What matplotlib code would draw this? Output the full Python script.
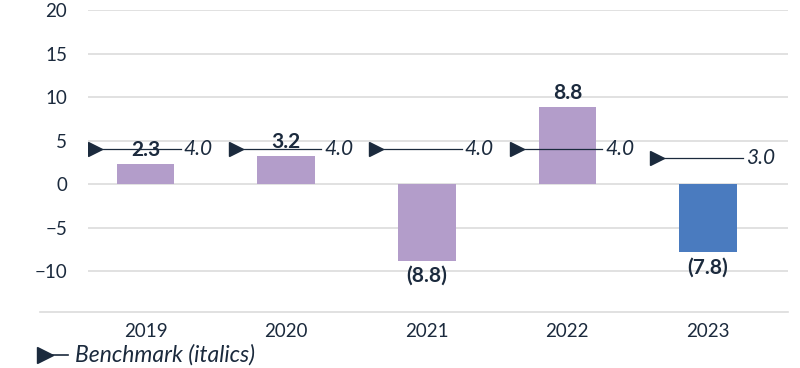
import numpy as np
import matplotlib
matplotlib.use("Agg")
from matplotlib import pyplot as plt
from matplotlib.lines import Line2D

years = ["2019", "2020", "2021", "2022", "2023"]
values = [2.3, 3.2, -8.8, 8.8, -7.8]
benchmark = [4.0, 4.0, 4.0, 4.0, 3.0]
bar_colors = ["#b39dca", "#b39dca", "#b39dca", "#b39dca", "#4a7bbf"]

navy = "#1b2a3d"
grid_col = "#dcdcdc"

plt.rcParams['font.family'] = ['Lato', 'DejaVu Sans']

fig = plt.figure(figsize=(8, 3.68), dpi=100)
ax = fig.add_axes([88/800, 1-312/368, 700/800, 302/368])

x = np.arange(len(years))
ax.bar(x, values, width=0.41, color=bar_colors, zorder=2)

# benchmark markers: triangle on the left, thin line, italic value
for xi, b in zip(x, benchmark):
    ax.plot([xi-0.36, xi+0.25], [b, b], color=navy, lw=0.9, zorder=3)
    ax.plot([xi-0.36], [b], marker='>', color=navy, ms=10, zorder=4)
    ax.text(xi+0.27, b, f"{b:.1f}", style='italic', fontsize=15,
            color=navy, va='center', ha='left', zorder=4)

# bar value labels
for xi, v in zip(x, values):
    if v >= 0:
        ax.text(xi, v+0.5, f"{v:.1f}", fontsize=15, fontweight='bold',
                color=navy, ha='center', va='bottom', zorder=5)
    else:
        ax.text(xi, v-0.6, f"({abs(v):.1f})", fontsize=15, fontweight='bold',
                color=navy, ha='center', va='top', zorder=5)

ax.set_xlim(-0.41, 4.57)
ax.set_ylim(-14.7, 20)
ax.set_yticks([-10, -5, 0, 5, 10, 15, 20])
ax.set_yticklabels(["\u221210", "\u22125", "0", "5", "10", "15", "20"])
ax.set_xticks(x)
ax.set_xticklabels(years)
ax.tick_params(length=0, labelsize=13.5, labelcolor=navy)
ax.tick_params(axis='y', pad=15)
ax.tick_params(axis='x', pad=8)
ax.grid(axis='y', color=grid_col, lw=1.2, zorder=0)
for s in ax.spines.values():
    s.set_visible(False)
ax.axhline(-14.7, xmin=-48/700, xmax=1, color=grid_col, lw=1.2, clip_on=False)

# legend
ly = 1 - 355/368
fig.add_artist(Line2D([42/800, 68/800], [ly, ly], color=navy, lw=1.2))
fig.add_artist(Line2D([45/800], [ly], marker='>', color=navy, ms=11))
fig.text(75/800, ly, "Benchmark (italics)", style='italic', fontsize=16.5,
         color=navy, va='center', ha='left')

fig.savefig("out.png", dpi=100)
